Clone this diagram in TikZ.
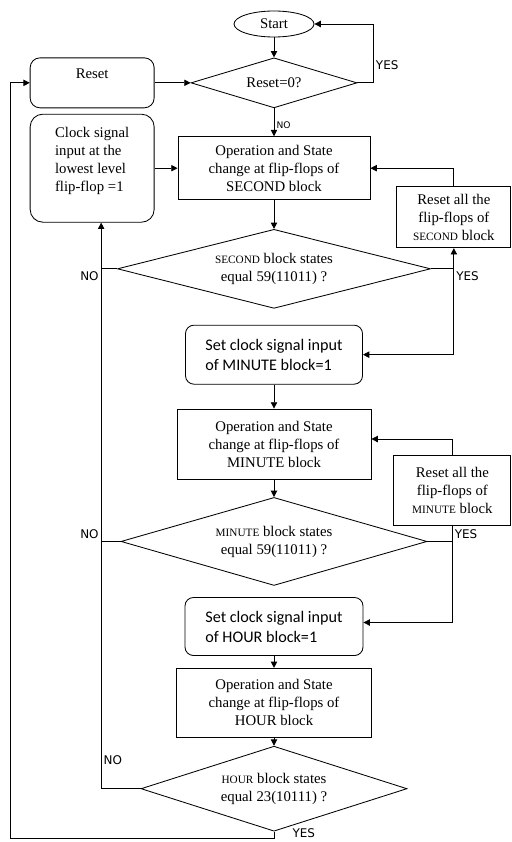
\documentclass[tikz,border=0pt]{standalone}
\usepackage{fontspec}
\setmainfont{Liberation Serif}
\newfontfamily\calibri{Carlito}
\newfontfamily\labelfont{DejaVu Sans}
\usetikzlibrary{arrows.meta,shapes.geometric,positioning}
\newcommand{\smcap}[1]{{\fontsize{8}{9}\selectfont #1}}

\begin{document}
\begin{tikzpicture}[
  node distance=0.5cm and 0.6cm,
  line width=0.6pt,
  every node/.style={font=\fontsize{10.5}{12.8}\selectfont},
  startnode/.style={draw, ellipse, minimum width=2cm, minimum height=0.65cm, inner sep=1pt},
  decide/.style={draw, diamond, aspect=3, inner sep=0pt, align=center},
  opbox/.style={draw, rectangle, inner sep=2pt, align=center},
  roundbox/.style={draw, rounded corners=7pt, inner sep=2pt, align=center},
  setbox/.style={draw, rounded corners=6pt, inner sep=2pt, align=left,
                 font=\calibri\fontsize{11.5}{14.3}\selectfont},
  lbl/.style={font=\labelfont\fontsize{8.5}{10}\selectfont, inner sep=1.5pt},
  arr/.style={-{Triangle[length=4.5pt,width=4.5pt]}},
]
\useasboundingbox (0,0) rectangle (12.8,-21.05);

%% ---- top: start and reset test ----
\node[startnode] (start) at (6.85,-0.6) {Start};
\node[decide, minimum width=4.15cm, minimum height=1.25cm,
      below=0.5cm of start] (rst0) {Reset=0?};
\node[roundbox, minimum width=3.1cm, minimum height=1.25cm,
      left=0.9cm of rst0] (reset) {Reset\\~};

%% ---- SECOND block ----
\node[opbox, minimum width=4.8cm, minimum height=1.575cm,
      below=0.7cm of rst0] (opsec)
  {Operation and State\\change at flip-flops of\\SECOND block};
\node[roundbox, rounded corners=9pt, minimum width=3.1cm, minimum height=2.7cm,
      align=left, left=0.575cm of opsec] (clock)
  {Clock signal\\input at the\\lowest level\\flip-flop =1\\~};
\node[opbox, minimum width=2.85cm, minimum height=1.525cm,
      right=0.65cm of opsec, yshift=-1.225cm] (rsec)
  {Reset all the\\flip-flops of\\\smcap{SECOND} block};
\node[decide, minimum width=7.825cm, minimum height=1.975cm,
      below=0.72cm of opsec] (secdia)
  {\smcap{SECOND} block states\\equal 59(11011) ?};

%% ---- MINUTE block ----
\node[setbox, minimum width=4.425cm, minimum height=1.475cm,
      below=0.4cm of secdia] (setmin)
  {Set clock signal input\\of MINUTE block=1};
\node[opbox, minimum width=4.85cm, minimum height=1.75cm,
      below=0.6cm of setmin] (opmin)
  {Operation and State\\change at flip-flops of\\MINUTE block};
\node[opbox, minimum width=2.925cm, minimum height=1.75cm,
      right=0.55cm of opmin, yshift=-1.15cm] (rmin)
  {Reset all the\\flip-flops of\\\smcap{MINUTE} block};
\node[decide, minimum width=7.65cm, minimum height=2.2cm,
      below=0.44cm of opmin] (mindia)
  {\smcap{MINUTE} block states\\equal 59(11011) ?};

%% ---- HOUR block ----
\node[setbox, minimum width=4.45cm, minimum height=1.45cm,
      below=0.28cm of mindia] (sethour)
  {Set clock signal input\\of HOUR block=1};
\node[opbox, minimum width=4.875cm, minimum height=1.725cm,
      below=0.3cm of sethour] (ophour)
  {Operation and State\\change at flip-flops of\\HOUR block};
\node[decide, minimum width=6.65cm, minimum height=2.125cm,
      below=0.2cm of ophour] (hourdia)
  {\smcap{HOUR} block states\\equal 23(10111) ?};

\coordinate (nox) at ([xshift=0.225cm]clock.south);
\coordinate (loopx) at ([xshift=-0.475cm]reset.west);

%% ---- arrows ----
\draw[arr] (start) -- (rst0);
\draw[arr] (rst0.east) -- ++(0.4,0) |- node[lbl, right, pos=0.15] {YES} (start.east);
\draw[arr] (reset) -- (rst0);
\draw[arr] (rst0) -- node[lbl, right, pos=0.6, font=\labelfont\fontsize{6.5}{8}\selectfont] {NO} (opsec);
\draw[arr] (clock) -- (opsec);
\draw[arr] (rsec.north) |- (opsec.east);
\draw[arr] (opsec) -- (secdia);
\draw (secdia.west) -- (secdia.west -| nox) node[lbl, below left] {NO};
\draw (secdia.east) -- (secdia.east -| rsec.south) coordinate (yessec)
  node[lbl, below right] {YES};
\draw[arr] (yessec) -- (rsec.south);
\draw[arr] (yessec) |- (setmin.east);
\draw[arr] (setmin) -- (opmin);
\draw[arr] (rmin.north) |- ([yshift=0.125cm]opmin.east);
\draw[arr] (opmin) -- (mindia);
\draw (mindia.west) -- (mindia.west -| nox) node[lbl, above left] {NO};
\draw (mindia.east) -- (mindia.east -| rmin.south) coordinate (yesmin)
  node[lbl, above right] {YES};
\draw (yesmin) -- (rmin.south);
\draw[arr] (yesmin) |- ([yshift=0.1cm]sethour.east);
\draw[arr] (sethour) -- (ophour);
\draw[arr] (ophour) -- (hourdia);
\draw[arr] (hourdia.west) -| node[lbl, right, pos=0.525] {NO} (nox);
\draw[arr] (hourdia.south) node[lbl, right, xshift=0.4cm, yshift=-0.05cm] {YES}
  -- ++(0,-0.17) -| (loopx) -- (reset.west);
\end{tikzpicture}
\end{document}
